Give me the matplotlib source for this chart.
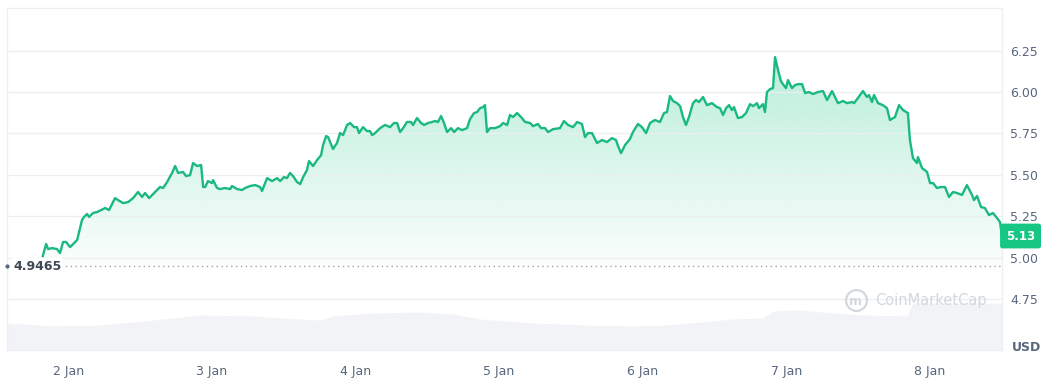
import matplotlib
matplotlib.use("Agg")
import matplotlib.pyplot as plt
import matplotlib.transforms as mtransforms
import numpy as np

# price series, x in days of January (2.0 = 2 Jan 00:00), price in USD
days = [1.824, 1.847, 1.861, 1.889, 1.923, 1.944, 1.965, 1.986, 2.014, 2.049, 2.063, 2.097, 2.111,
        2.132, 2.146, 2.174, 2.202, 2.230, 2.258, 2.285, 2.327, 2.348, 2.383, 2.418, 2.452, 2.487,
        2.515, 2.536, 2.564, 2.606, 2.640, 2.661, 2.689, 2.724, 2.745, 2.766, 2.800, 2.821, 2.849,
        2.870, 2.898, 2.926, 2.940, 2.954, 2.974, 3.002, 3.009, 3.037, 3.058, 3.093, 3.128, 3.141,
        3.176, 3.211, 3.232, 3.267, 3.302, 3.336, 3.350, 3.385, 3.420, 3.455, 3.476, 3.503, 3.524,
        3.545, 3.566, 3.594, 3.615, 3.636, 3.663, 3.677, 3.705, 3.733, 3.761, 3.775, 3.796, 3.810,
        3.844, 3.872, 3.893, 3.914, 3.942, 3.963, 3.991, 4.011, 4.025, 4.053, 4.081, 4.102, 4.116,
        4.137, 4.172, 4.206, 4.241, 4.269, 4.290, 4.311, 4.332, 4.359, 4.387, 4.401, 4.429, 4.457,
        4.478, 4.506, 4.533, 4.554, 4.575, 4.596, 4.617, 4.638, 4.666, 4.687, 4.714, 4.742, 4.777,
        4.798, 4.826, 4.847, 4.868, 4.889, 4.902, 4.916, 4.937, 4.972, 5.007, 5.028, 5.056, 5.076,
        5.097, 5.125, 5.153, 5.181, 5.216, 5.236, 5.271, 5.292, 5.320, 5.341, 5.376, 5.424, 5.452,
        5.480, 5.515, 5.543, 5.577, 5.598, 5.619, 5.647, 5.682, 5.717, 5.751, 5.786, 5.814, 5.828,
        5.849, 5.877, 5.911, 5.932, 5.967, 5.995, 6.023, 6.051, 6.085, 6.120, 6.148, 6.169, 6.190,
        6.211, 6.239, 6.260, 6.280, 6.301, 6.322, 6.350, 6.371, 6.392, 6.420, 6.447, 6.482, 6.517,
        6.538, 6.559, 6.580, 6.601, 6.621, 6.635, 6.663, 6.691, 6.719, 6.747, 6.768, 6.795, 6.809,
        6.837, 6.851, 6.865, 6.886, 6.907, 6.921, 6.942, 6.962, 6.976, 6.997, 7.011, 7.039, 7.060,
        7.081, 7.109, 7.130, 7.157, 7.185, 7.220, 7.255, 7.283, 7.318, 7.338, 7.359, 7.394, 7.422,
        7.457, 7.471, 7.498, 7.533, 7.561, 7.575, 7.596, 7.610, 7.638, 7.672, 7.700, 7.721, 7.756,
        7.784, 7.812, 7.846, 7.860, 7.881, 7.909, 7.916, 7.944, 7.979, 8.000, 8.021, 8.048, 8.076,
        8.104, 8.132, 8.160, 8.187, 8.222, 8.257, 8.292, 8.306, 8.327, 8.355, 8.382, 8.410, 8.438,
        8.466, 8.487, 8.500]
prices = [5.009, 5.082, 5.051, 5.057, 5.051, 5.027, 5.094, 5.094, 5.063, 5.094, 5.106, 5.227, 5.245,
          5.263, 5.245, 5.269, 5.275, 5.287, 5.299, 5.287, 5.359, 5.347, 5.329, 5.335, 5.359, 5.396,
          5.366, 5.390, 5.359, 5.396, 5.426, 5.420, 5.456, 5.511, 5.553, 5.511, 5.517, 5.492, 5.498,
          5.571, 5.553, 5.559, 5.426, 5.426, 5.462, 5.450, 5.468, 5.420, 5.414, 5.420, 5.414, 5.432,
          5.414, 5.408, 5.420, 5.432, 5.438, 5.426, 5.402, 5.480, 5.462, 5.480, 5.462, 5.486, 5.480,
          5.511, 5.492, 5.456, 5.444, 5.486, 5.529, 5.583, 5.553, 5.589, 5.619, 5.680, 5.734, 5.728,
          5.656, 5.692, 5.752, 5.740, 5.801, 5.813, 5.788, 5.788, 5.752, 5.788, 5.764, 5.764, 5.740,
          5.752, 5.782, 5.801, 5.788, 5.813, 5.813, 5.758, 5.782, 5.819, 5.819, 5.801, 5.843, 5.813,
          5.801, 5.813, 5.819, 5.825, 5.819, 5.855, 5.813, 5.758, 5.782, 5.758, 5.782, 5.770, 5.782,
          5.837, 5.873, 5.879, 5.903, 5.909, 5.921, 5.758, 5.782, 5.782, 5.794, 5.813, 5.801, 5.861,
          5.849, 5.873, 5.849, 5.819, 5.813, 5.794, 5.807, 5.782, 5.782, 5.758, 5.776, 5.782, 5.825,
          5.801, 5.788, 5.819, 5.807, 5.728, 5.752, 5.752, 5.692, 5.710, 5.698, 5.722, 5.710, 5.674,
          5.631, 5.680, 5.716, 5.758, 5.807, 5.788, 5.752, 5.813, 5.831, 5.819, 5.873, 5.879, 5.976,
          5.946, 5.933, 5.915, 5.849, 5.801, 5.849, 5.933, 5.952, 5.940, 5.970, 5.921, 5.933, 5.909,
          5.903, 5.861, 5.903, 5.921, 5.891, 5.909, 5.843, 5.849, 5.873, 5.927, 5.915, 5.933, 5.903,
          5.927, 5.879, 6.000, 6.018, 6.024, 6.211, 6.133, 6.066, 6.048, 6.024, 6.072, 6.024, 6.042,
          6.048, 6.048, 5.994, 6.000, 5.988, 6.000, 6.006, 5.952, 6.006, 5.970, 5.933, 5.946, 5.933,
          5.940, 5.933, 5.964, 6.006, 5.970, 5.982, 5.940, 5.982, 5.933, 5.921, 5.903, 5.831, 5.849,
          5.921, 5.891, 5.873, 5.710, 5.601, 5.571, 5.607, 5.541, 5.517, 5.450, 5.450, 5.420, 5.426,
          5.426, 5.366, 5.396, 5.390, 5.378, 5.438, 5.378, 5.347, 5.372, 5.305, 5.299, 5.257, 5.269,
          5.239, 5.214, 5.130]

# trading volume (millions USD, relative)
vol_days = [1.575, 1.896, 2.223, 2.452, 2.731, 2.919, 3.288, 3.476, 3.754, 3.844, 4.123, 4.450,
            4.680, 4.868, 5.236, 5.612, 5.932, 6.169, 6.399, 6.628, 6.837, 6.907, 7.095, 7.324,
            7.561, 7.839, 7.881, 8.500]
volume = [27, 24, 25, 28, 32, 35, 34, 32, 30, 34, 37, 38, 36, 31, 27, 25, 24, 25, 28, 31, 32, 39,
          40, 37, 35, 34, 47, 47]

open_price = 4.9465
last_price = 5.13
y_ticks = [4.75, 5.00, 5.25, 5.50, 5.75, 6.00, 6.25]
x_ticks = [2, 3, 4, 5, 6, 7, 8]
x_labels = ["2 Jan", "3 Jan", "4 Jan", "5 Jan", "6 Jan", "7 Jan", "8 Jan"]

green = "#16c784"
line_green = "#19b97f"
grey_text = "#58667e"

fig = plt.figure(figsize=(10.5, 3.92), dpi=100)
rect = [0.0067, 0.1071, 0.9476, 0.8725]

# volume axes behind the price axes
ax_v = fig.add_axes(rect, zorder=0)
ax_v.fill_between(vol_days, volume, 0, color="#f2f3f6", lw=0)
ax_v.set_xlim(1.575, 8.501)
ax_v.set_ylim(0, max(volume) * 7.28)
ax_v.axis("off")

ax = fig.add_axes(rect, zorder=1)
ax.patch.set_alpha(0)
ax.set_xlim(1.575, 8.501)
ax.set_ylim(4.441, 6.508)

# gradient fill under the line
n = 256
grad = np.zeros((n, 1, 4))
grad[:, 0, :3] = matplotlib.colors.to_rgb(green)
grad[:, 0, 3] = np.linspace(0.30, 0.02, n)
top = max(prices)
im = ax.imshow(grad, extent=[days[0], days[-1], open_price, top], aspect="auto",
               origin="upper", zorder=1)
poly = ax.fill_between(days, prices, open_price, facecolor="none", edgecolor="none")
im.set_clip_path(poly.get_paths()[0], transform=ax.transData)

ax.plot(days, prices, color=line_green, lw=1.7, zorder=3, solid_joinstyle="round")

# opening price reference line
ax.axhline(open_price, color="#9aa2b0", lw=1.0, ls=(0, (1, 2.5)), zorder=2)
ax.plot([1.578], [open_price], marker="o", ms=2, color=grey_text, zorder=4, clip_on=False)
ax.text(1.62, open_price, "4.9465", fontsize=9, color="#3d4756", fontweight="semibold",
        va="center", ha="left", zorder=4,
        bbox=dict(facecolor="white", edgecolor="none", pad=1))

# grid / frame
ax.set_yticks(y_ticks)
ax.yaxis.set_major_formatter(matplotlib.ticker.FormatStrFormatter("%.2f"))
ax.yaxis.tick_right()
ax.grid(axis="y", color="#eceff2", lw=0.9, zorder=0)
ax.set_xticks(x_ticks)
ax.set_xticklabels(x_labels)
ax.tick_params(length=0, labelsize=9, colors=grey_text)
ax.tick_params(axis="x", pad=11)
ax.tick_params(axis="y", pad=6)
for s in ax.spines.values():
    s.set_color("#eceff2")
    s.set_linewidth(0.9)

# last price badge
trans = mtransforms.blended_transform_factory(ax.transAxes, ax.transData)
ax.text(1.004, last_price, "5.13", transform=trans, fontsize=8.5, color="white",
        fontweight="bold", va="center", ha="left", zorder=5,
        bbox=dict(boxstyle="round,pad=0.5,rounding_size=0.2", facecolor=green, edgecolor="none"))

# watermark
ax.plot([0.853], [0.146], transform=ax.transAxes, marker="o", ms=15, mfc="none",
        mec="#d3d7de", mew=1.6, zorder=2)
ax.text(0.853, 0.143, "m", transform=ax.transAxes, fontsize=9, color="#d3d7de",
        ha="center", va="center", fontweight="bold", zorder=2)
ax.text(0.872, 0.146, "CoinMarketCap", transform=ax.transAxes, fontsize=10.5,
        color="#d3d7de", ha="left", va="center", zorder=2)

fig.text(0.978, 0.114, "USD", fontsize=9, color=grey_text, fontweight="bold",
         ha="center", va="center")

fig.savefig("out.png", dpi=100)
